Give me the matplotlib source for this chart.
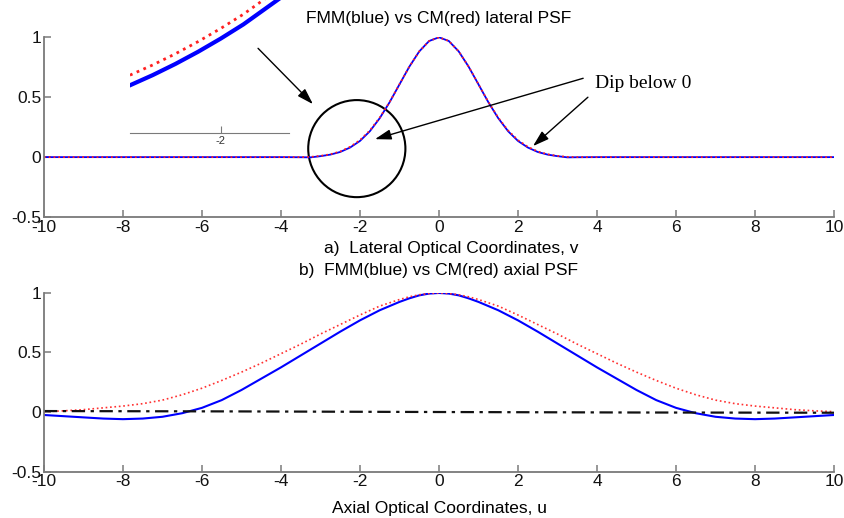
import matplotlib
matplotlib.use("Agg")
import matplotlib.pyplot as plt
from matplotlib.patches import Ellipse

plt.rcParams['font.family'] = ['Liberation Sans', 'DejaVu Sans']

# lateral PSF (top panel)
v_lat = [-10, -4, -3.5, -3.25, -3, -2.75, -2.5, -2.25, -2, -1.75, -1.5, -1.25, -1, -0.75, -0.5, -0.25, 0,
         0.25, 0.5, 0.75, 1, 1.25, 1.5, 1.75, 2, 2.25, 2.5, 2.75, 3, 3.25, 3.5, 4, 10]
fmm_lat = [0, 0, -0.001, -0.002, 0.008, 0.021, 0.043, 0.080, 0.135, 0.216, 0.325, 0.458, 0.607, 0.755, 0.882, 0.969, 1.0,
           0.969, 0.882, 0.755, 0.607, 0.458, 0.325, 0.216, 0.135, 0.080, 0.043, 0.021, 0.008, -0.002, -0.001, 0, 0]
cm_lat = [0, 0, 0.0, 0.002, 0.010, 0.024, 0.047, 0.086, 0.142, 0.222, 0.330, 0.460, 0.608, 0.755, 0.882, 0.969, 1.0,
          0.969, 0.882, 0.755, 0.608, 0.460, 0.330, 0.222, 0.142, 0.086, 0.047, 0.024, 0.010, 0.002, 0.0, 0, 0]

# zoomed view near v = -2
v_zoom = [-2.2, -2.15, -2.1, -2.05, -2.0, -1.95, -1.9, -1.85]
fmm_zoom = [0.089, 0.099, 0.110, 0.122, 0.135, 0.149, 0.165, 0.181]
cm_zoom = [0.099, 0.109, 0.120, 0.132, 0.145, 0.159, 0.175, 0.191]

# axial PSF (bottom panel)
u_ax = [-10, -9.5, -9, -8.5, -8, -7.5, -7, -6.5, -6, -5.5, -5, -4.5, -4, -3.5, -3, -2.5, -2, -1.5, -1,
        -0.75, -0.5, -0.25, 0, 0.25, 0.5, 0.75,
        1, 1.5, 2, 2.5, 3, 3.5, 4, 4.5, 5, 5.5, 6, 6.5, 7, 7.5, 8, 8.5, 9, 9.5, 10]
fmm_ax = [-0.025, -0.035, -0.045, -0.055, -0.06, -0.055, -0.04, -0.01, 0.035, 0.1, 0.185, 0.28, 0.375, 0.475, 0.575,
          0.675, 0.77, 0.855, 0.925, 0.955, 0.98, 0.995, 1.0,
          0.995, 0.98, 0.955, 0.925, 0.855, 0.77, 0.675, 0.575, 0.475, 0.375, 0.28, 0.185, 0.1, 0.035, -0.01, -0.04,
          -0.055, -0.06, -0.055, -0.045, -0.035, -0.025]
cm_ax = [0.003, 0.01, 0.02, 0.035, 0.05, 0.07, 0.1, 0.145, 0.2, 0.265, 0.335, 0.41, 0.49, 0.57, 0.655, 0.735,
         0.815, 0.89, 0.945, 0.968, 0.985, 0.996, 1.0,
         0.996, 0.985, 0.968, 0.945, 0.89, 0.815, 0.735, 0.655, 0.57, 0.49, 0.41, 0.335, 0.265, 0.2, 0.145, 0.1,
         0.07, 0.05, 0.035, 0.02, 0.01, 0.003]
u_diff = [-10, -5, 0, 5, 10]
diff_ax = [0.008, 0.005, 0.0, -0.004, -0.006]

xticks = [-10, -8, -6, -4, -2, 0, 2, 4, 6, 8, 10]
yticks = [-0.5, 0, 0.5, 1]
spine_col = '#7a7a7a'


def style(ax):
    ax.set_xlim(-10, 10)
    ax.set_ylim(-0.5, 1)
    ax.set_xticks(xticks)
    ax.set_yticks(yticks)
    ax.set_yticklabels(['-0.5', '0', '0.5', '1'])
    ax.set_xticklabels([str(t) for t in xticks])
    for s in ['top', 'right']:
        ax.spines[s].set_visible(False)
    for s in ['left', 'bottom']:
        ax.spines[s].set_color(spine_col)
        ax.spines[s].set_linewidth(1.3)
    ax.tick_params(direction='in', length=5, width=1.1, color=spine_col,
                   labelsize=12.5, pad=2, labelcolor='#111111')


fig = plt.figure(figsize=(8.45, 5.18), dpi=100)
ax1 = fig.add_axes([0.052, 0.581, 0.935, 0.347])
ax2 = fig.add_axes([0.052, 0.0897, 0.935, 0.3447])

# top panel
ax1.plot(v_lat, fmm_lat, color='#0000ff', lw=1.3)
ax1.plot(v_lat, cm_lat, color='#ff2020', lw=1.3, ls=':')
style(ax1)
ax1.set_title('FMM(blue) vs CM(red) lateral PSF', fontsize=12.5, pad=10)
ax1.set_xlabel('a)  Lateral Optical Coordinates, v', fontsize=12.5)
ax1.xaxis.set_label_coords(0.515, -0.133)

ax1.add_patch(Ellipse((-2.08, 0.071), 2.46, 0.81, fill=False, ec='black', lw=1.5, clip_on=False))
arr = dict(arrowstyle='-|>,head_length=0.7,head_width=0.22', color='black', lw=1.0,
           mutation_scale=14, shrinkA=0, shrinkB=0)
ax1.annotate('', xy=(-3.19, 0.442), xytext=(-4.58, 0.908), arrowprops=arr, annotation_clip=False)
ax1.annotate('', xy=(-1.62, 0.15), xytext=(3.65, 0.658), arrowprops=arr, annotation_clip=False)
ax1.annotate('', xy=(2.38, 0.092), xytext=(3.77, 0.50), arrowprops=arr, annotation_clip=False)
ax1.text(3.95, 0.617, 'Dip below 0', family=['Liberation Serif', 'DejaVu Serif'], fontsize=14,
         ha='left', va='center')

# inset zoom
axz = fig.add_axes([0.1538, 0.7432, 0.188, 0.2568])
axz.patch.set_alpha(0)
axz.plot(v_zoom, fmm_zoom, color='#0000ff', lw=3)
axz.plot(v_zoom, cm_zoom, color='#ff2020', lw=2, ls=':')
axz.set_xlim(-2.2, -1.85)
axz.set_ylim(0.042, 0.173)
for s in ['top', 'right', 'left']:
    axz.spines[s].set_visible(False)
axz.spines['bottom'].set_color(spine_col)
axz.set_xticks([-2])
axz.set_xticklabels(['-2'])
axz.set_yticks([])
axz.tick_params(direction='in', length=5, color=spine_col, labelsize=8, pad=2, labelcolor='#333333')

# bottom panel
ax2.plot(u_ax, fmm_ax, color='#0000ff', lw=1.5)
ax2.plot(u_ax, cm_ax, color='#ff3030', lw=1.2, ls=':')
ax2.plot(u_diff, diff_ax, color='#111111', lw=1.6, ls=(0, (6, 2.5, 1.5, 2.5)))
style(ax2)
ax2.set_title('b)  FMM(blue) vs CM(red) axial PSF', fontsize=12.5, pad=13)
ax2.set_xlabel('Axial Optical Coordinates, u', fontsize=12.5)
ax2.xaxis.set_label_coords(0.501, -0.165)

fig.savefig('out.png', dpi=100)
